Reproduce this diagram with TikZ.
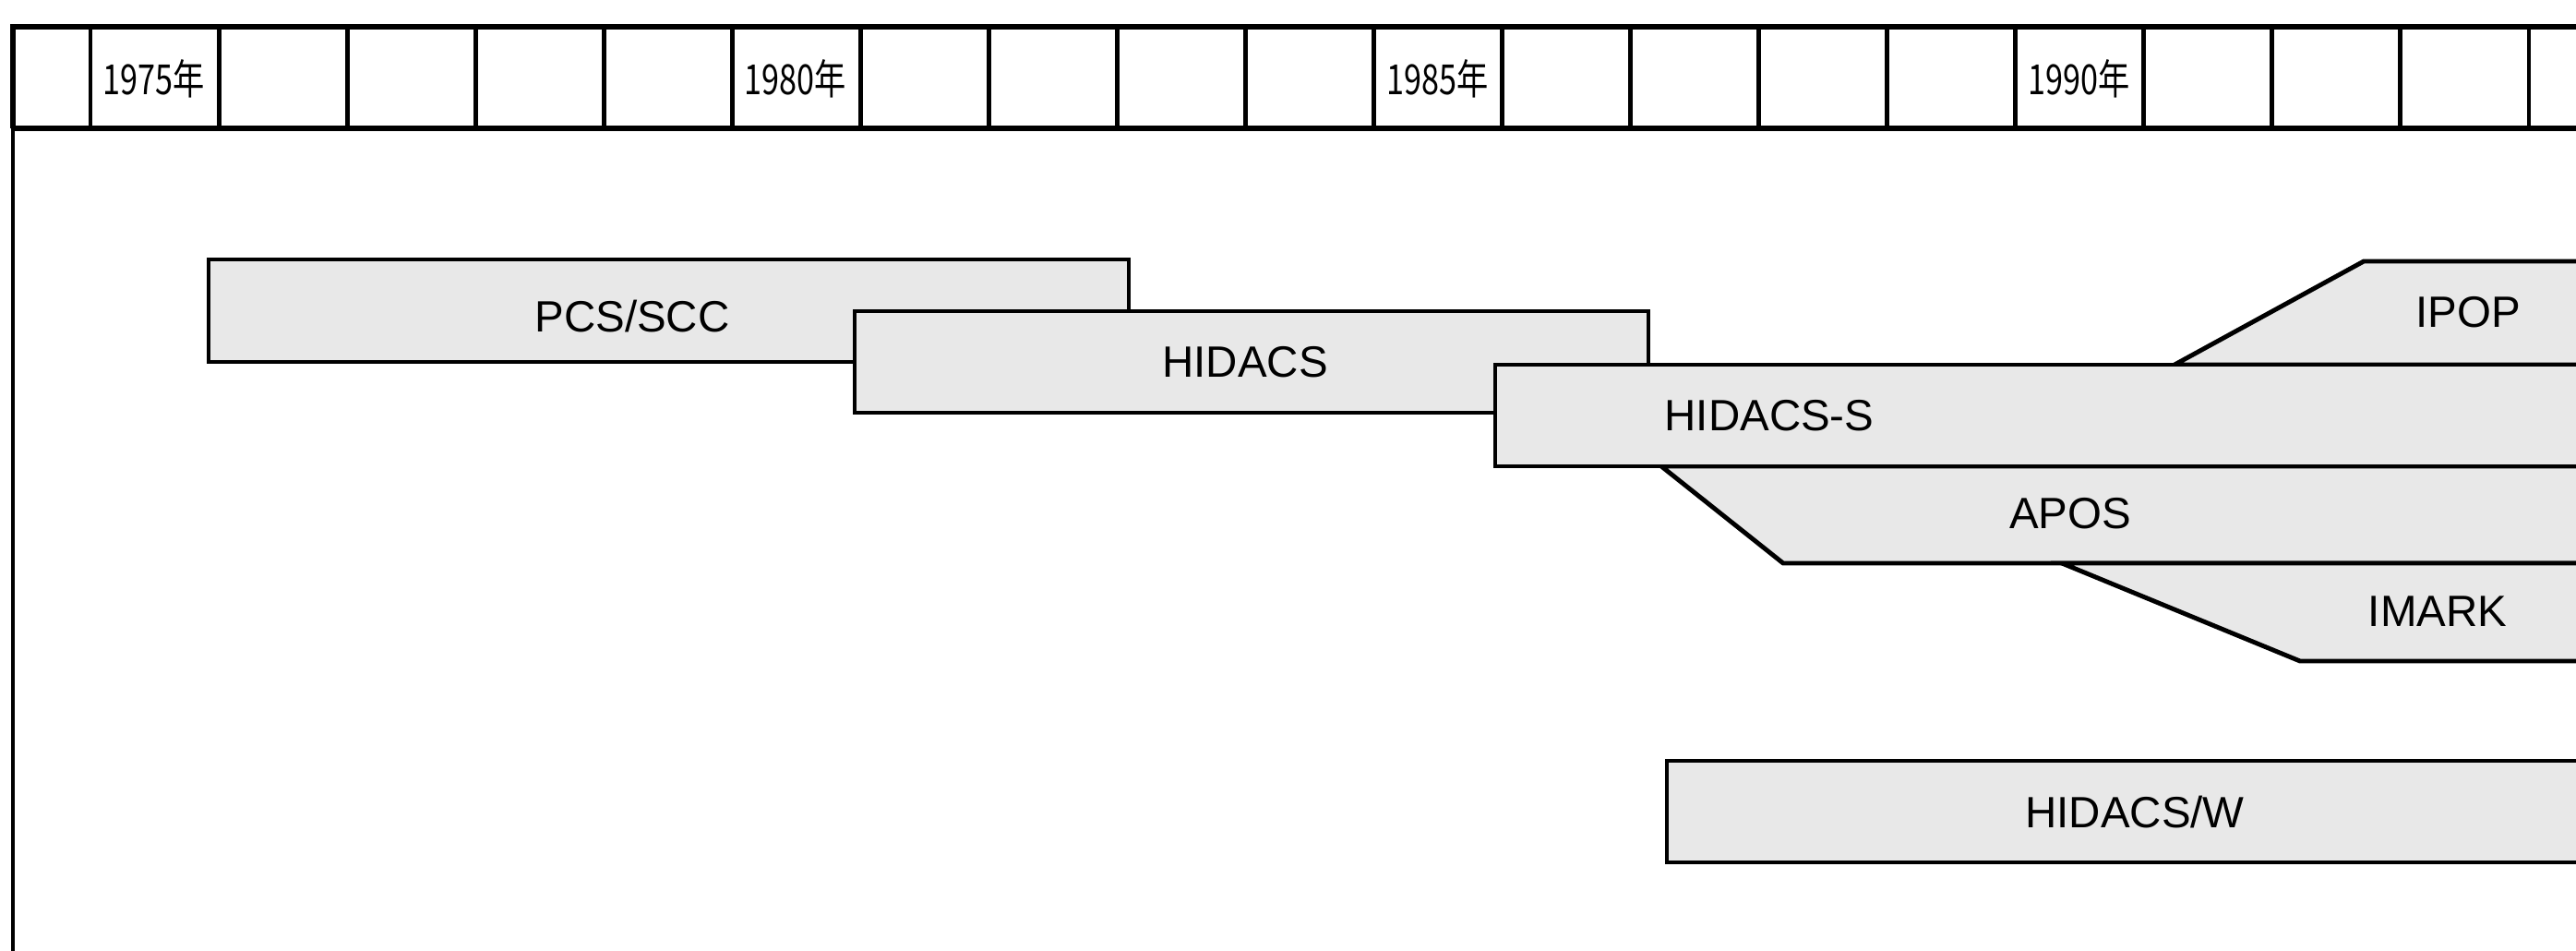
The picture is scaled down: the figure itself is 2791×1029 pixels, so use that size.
\documentclass[tikz,border=0pt]{standalone}
\usepackage{fontspec}
\usepackage{graphicx}
\setmainfont{Liberation Sans}
\newfontfamily\cjkfont{Noto Sans CJK JP}
\tikzset{
  bar/.style={draw=black, fill=black!9, line width=1.4pt, line join=miter},
  lbl/.style={font=\fontsize{13.5}{16}\selectfont, inner sep=0pt},
  yr/.style={font=\cjkfont\fontsize{12.8}{15}\selectfont, inner sep=0pt},
  divider/.style={line width=1.4pt},
  frameline/.style={line width=1.7pt},
  bodyline/.style={line width=1.0pt},
}
\begin{document}
\begin{tikzpicture}[x=0.01cm,y=-0.01cm]
\useasboundingbox (0,0) rectangle (2791,1029);
\fill[white] (0,0) rectangle (2791,1029);
\begin{scope}
\clip (0,0) rectangle (2791,1029);
% header frame
\draw[frameline] (14,139) -- (14,29) -- (2810,29);
\draw[frameline] (14,139) -- (2810,139);
\draw[bodyline] (14,139) -- (14,1040);
\foreach \k in {0,...,19}
  \draw[divider] ({98+139.05*\k},29) -- ({98+139.05*\k},139);
% year labels
\node[yr] (y1975) at (167,85) {\scalebox{0.76}[1]{1975年}};
\node[yr] (y1980) at (862,85) {\scalebox{0.76}[1]{1980年}};
\node[yr] (y1985) at (1558,85) {\scalebox{0.76}[1]{1985年}};
\node[yr] (y1990) at (2253,85) {\scalebox{0.76}[1]{1990年}};
% bars
\draw[bar] (226,281) rectangle (1223,392);
\draw[bar] (926,337) rectangle (1786,447);
\draw[bar] (2356,395) -- (2561,283) -- (2810,283) -- (2810,395) -- cycle;
\draw[bar] (1800,505) -- (1932,610) -- (2810,610) -- (2810,505) -- cycle;
\draw[bar] (2234,610) -- (2492,716) -- (2810,716) -- (2810,610) -- cycle;
\draw[bar] (1620,395) rectangle (2810,505);
\draw[bar] (1806,824) rectangle (2810,934);
% labels
\node[lbl] (pcs) at (685,343) {PCS/SCC};
\node[lbl] (hidacs) at (1349,392) {HIDACS};
\node[lbl] (hidacss) at (1917,450) {HIDACS-S};
\node[lbl] (ipop) at (2674,338) {IPOP};
\node[lbl] (apos) at (2243,556) {APOS};
\node[lbl] (imark) at (2641,662) {IMARK};
\node[lbl] (hidacsw) at (2313,880) {HIDACS/W};
\end{scope}
\end{tikzpicture}
\end{document}
